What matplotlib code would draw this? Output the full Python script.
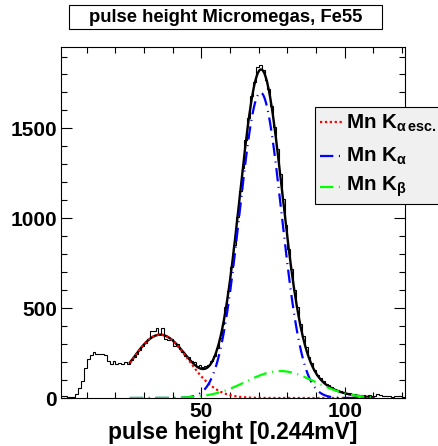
import numpy as np
import matplotlib
matplotlib.use("Agg")
import matplotlib.pyplot as plt
from matplotlib.patches import Rectangle
from matplotlib.lines import Line2D
from matplotlib.ticker import MultipleLocator

plt.rcParams["font.family"] = ["Liberation Sans", "DejaVu Sans"]
plt.rcParams["font.weight"] = "bold"
plt.rcParams["mathtext.fontset"] = "custom"
plt.rcParams["mathtext.rm"] = "Liberation Sans"
plt.rcParams["mathtext.bf"] = "Liberation Sans:bold"
plt.rcParams["mathtext.it"] = "Liberation Sans:italic"

# histogram: 120 bins of width 1 from 1 to 121
bin_lo, bin_hi = 1, 121
counts = [
    10, 12, 5, 3, 6, 22, 56, 93, 168, 216,
    242, 257, 246, 245, 243, 240, 205, 190, 205, 188,
    192, 188, 200, 190, 212, 226, 247, 266, 288, 305,
    330, 372, 373, 392, 358, 392, 330, 325, 330, 292,
    300, 272, 255, 236, 228, 208, 200, 180, 186, 172,
    178, 186, 205, 232, 280, 335, 410, 505, 598, 730,
    850, 1005, 1150, 1280, 1435, 1560, 1680, 1760, 1844, 1853,
    1825, 1769, 1720, 1625, 1510, 1385, 1245, 1110, 965, 830,
    715, 600, 505, 410, 345, 285, 230, 192, 158, 130,
    110, 95, 80, 70, 62, 52, 45, 38, 34, 30,
    26, 22, 24, 18, 16, 15, 12, 14, 10, 12,
    25, 14, 12, 10, 12, 8, 10, 12, 9, 8,
]

# fit: three gaussians (amplitude, mean, sigma) over the fit range
fit_range = (25, 110)
esc_par = (352, 35.6, 9.8)
ka_par = (1700, 70.6, 7.3)
kb_par = (150, 77.5, 12.0)

legend_labels = [
    r"Mn K$_{\mathrm{α}\,\mathbf{esc.}}$",
    r"Mn K$_{\mathrm{α}}$",
    r"Mn K$_{\mathrm{β}}$",
]

W, H = 439, 446


def gaus(x, par):
    a, m, s = par
    return a * np.exp(-0.5 * ((x - m) / s) ** 2)


def fx(px):
    return px / W


def fy(py):
    return 1 - py / H


fig = plt.figure(figsize=(W / 100, H / 100), dpi=100)
ax = fig.add_axes([fx(61), fy(398), fx(405) - fx(61), fy(47) - fy(398)])

edges = np.arange(bin_lo, bin_hi + 1)
ax.stairs(counts, edges, baseline=None, color="black", lw=0.8)

xf = np.linspace(fit_range[0], fit_range[1], 600)
esc = gaus(xf, esc_par)
ka = gaus(xf, ka_par)
kb = gaus(xf, kb_par)
ax.plot(xf, esc + ka + kb, color="black", lw=1.7)
ax.plot(xf, esc, color="#ff0000", lw=1.6, ls=(0, (1, 1.2)))
ax.plot(xf, ka, color="#0000ff", lw=1.6, ls=(0, (6, 2.5, 0.5, 2.5)))
ax.plot(xf, kb, color="#00ff00", lw=1.6, ls=(0, (6, 2.5, 0.5, 2.5)))

ax.set_xlim(bin_lo, bin_hi)
ax.set_ylim(0, 1953)
ax.xaxis.set_major_locator(MultipleLocator(50))
ax.xaxis.set_minor_locator(MultipleLocator(10))
ax.yaxis.set_major_locator(MultipleLocator(500))
ax.yaxis.set_minor_locator(MultipleLocator(100))
ax.tick_params(which="both", direction="in", top=True, right=True,
               width=0.8, labelsize=15, pad=3)
ax.tick_params(which="major", length=8)
ax.tick_params(which="minor", length=4)
for lab in ax.get_xticklabels() + ax.get_yticklabels():
    lab.set_fontweight("bold")
for sp in ax.spines.values():
    sp.set_linewidth(0.8)

ax.set_xlabel("pulse height [0.244mV]", fontsize=16.5, fontweight="bold",
              va="center")
ax.xaxis.set_label_coords(0.5, (398 - 433) / (398 - 47))

# title box
fig.patches.append(Rectangle((fx(69), fy(29.3)), fx(382) - fx(69),
                             fy(5) - fy(29.3), transform=fig.transFigure,
                             fc="white", ec="black", lw=0.8))
fig.text(fx(226), fy(17.5), "pulse height Micromegas, Fe55", fontsize=13.3,
         fontweight="bold", ha="center", va="center")

# legend box
fig.patches.append(Rectangle((fx(315), fy(204)), fx(130), fy(0) - fy(97),
                             transform=fig.transFigure, fc="#f0f0f0",
                             ec="black", lw=0.8, zorder=5))
styles = [
    dict(color="#ff0000", ls=(0, (1, 1.2))),
    dict(color="#0000ff", ls=(0, (6, 2.5, 0.5, 2.5))),
    dict(color="#00ff00", ls=(0, (6, 2.5, 0.5, 2.5))),
]
line_y = [122, 156, 187]
base_y = [128.5, 162, 190.5]
for lab, st, ly, by in zip(legend_labels, styles, line_y, base_y):
    fig.lines.append(Line2D([fx(320), fx(342)], [fy(ly), fy(ly)],
                            transform=fig.transFigure, lw=1.6, zorder=6, **st))
    fig.text(fx(346), fy(by), lab, fontsize=14.8, fontweight="bold",
             ha="left", va="baseline", zorder=6)

fig.savefig("out.png", dpi=100)
